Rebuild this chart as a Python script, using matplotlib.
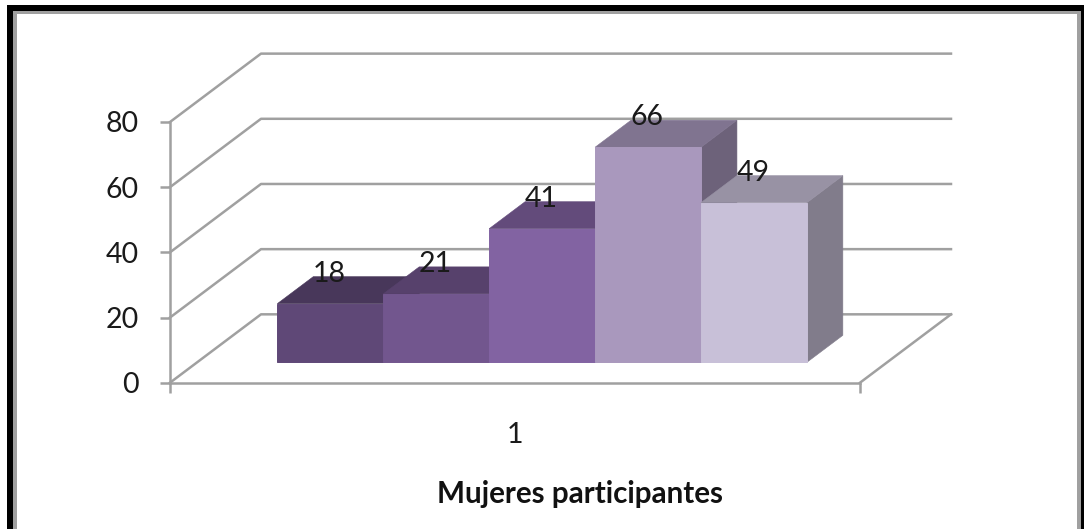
import matplotlib
matplotlib.use("Agg")
import matplotlib.pyplot as plt
from matplotlib.patches import Polygon, Rectangle
from matplotlib.colors import to_rgb

plt.rcParams['font.family'] = ['Lato', 'DejaVu Sans']

# values
valores = [18, 21, 41, 66, 49]
colores = ['#5f4877', '#72568e', '#8263a2', '#a998bd', '#c8c0d8']
yticks = [0, 20, 40, 60, 80]
categoria = ['1']
titulo_x = 'Mujeres participantes'

W, H = 1084, 529
gris = '#a0a0a0'

fig = plt.figure(figsize=(W / 100, H / 100), dpi=100)
ax = fig.add_axes([170 / W, 1 - 382.7 / H, 690 / W, 260.7 / H])
ax.set_xlim(0, 1)
ax.set_ylim(0, 80)

# oblique 3d: depth d goes 0 (front) to 1 (back wall)
DX = 91 / 690
DY = 68.4 / 3.26

def proy(x, y, d):
    return x + d * DX, y + d * DY

# walls and floor
for v in yticks:
    x0, y0 = proy(0, v, 0)
    x1, y1 = proy(0, v, 1)
    x2, y2 = proy(1, v, 1)
    ax.plot([x0, x1, x2], [y0, y1, y2], color=gris, lw=1.8, clip_on=False, zorder=1)
x0, y0 = proy(1, 0, 0)
x1, y1 = proy(1, 0, 1)
ax.plot([x0, x1], [y0, y1], color=gris, lw=1.8, clip_on=False, zorder=1)

# bars, left to right so each one covers the side of the previous
ancho = 0.1535
hueco = (1 - ancho * len(valores)) / 2
d0, d1 = 0.298, 0.693
for i, (v, c) in enumerate(zip(valores, colores)):
    a = hueco + i * ancho
    b = a + ancho
    rgb = to_rgb(c)
    arriba = tuple(k * 0.76 for k in rgb)
    lado = tuple(k * 0.645 for k in rgb)
    z = 3 + i
    ax.add_patch(Polygon([proy(b, 0, d0), proy(b, 0, d1), proy(b, v, d1), proy(b, v, d0)],
                         fc=lado, ec=lado, lw=0.4, clip_on=False, zorder=z))
    ax.add_patch(Polygon([proy(a, v, d0), proy(b, v, d0), proy(b, v, d1), proy(a, v, d1)],
                         fc=arriba, ec=arriba, lw=0.4, clip_on=False, zorder=z))
    ax.add_patch(Polygon([proy(a, 0, d0), proy(b, 0, d0), proy(b, v, d0), proy(a, v, d0)],
                         fc=c, ec=c, lw=0.7, clip_on=False, zorder=z))
    xt, yt = proy(a + ancho / 2, v, d0)
    ax.annotate(str(v), (xt, yt), xytext=(-0.7, 21.5), textcoords='offset points',
                ha='center', va='center', fontsize=20.5, color='#1a1a1a', zorder=20,
                annotation_clip=False)

for s in ['top', 'right']:
    ax.spines[s].set_visible(False)
for s in ['left', 'bottom']:
    ax.spines[s].set_color(gris)
    ax.spines[s].set_linewidth(1.8)
    ax.spines[s].set_zorder(2)
ax.patch.set_alpha(0)

ax.set_yticks(yticks)
ax.tick_params(axis='y', length=7.2, width=1.8, color=gris, labelsize=20.5,
               labelcolor='#1a1a1a', pad=15.5)
for t in ax.get_yticklabels():
    t.set_va('center_baseline')
ax.set_xticks([0.5])
ax.set_xticklabels(categoria)
ax.set_xticks([0, 1], minor=True)
ax.tick_params(axis='x', which='major', length=0, labelsize=20.5, labelcolor='#1a1a1a', pad=28)
ax.tick_params(axis='x', which='minor', length=7.2, width=1.8, color=gris)
ax.set_xlabel(titulo_x, x=(580 - 170) / 690, fontsize=21.3, fontweight='bold',
              color='#111111', labelpad=23.5)

# frame of the picture, bottom edge is cut off in the reference
marco = [(7, 5, W - 7, 6, 'black'), (7, 5, 6, H - 5, 'black'), (W - 3, 5, 3, H - 5, 'black'),
         (13, 11, 4, H - 11, gris), (13, 11, W - 16, 3, gris), (W - 7, 11, 4, H - 11, gris)]
for x, y, w, h, c in marco:
    fig.add_artist(Rectangle((x / W, 1 - (y + h) / H), w / W, h / H, fc=c, lw=0,
                             transform=fig.transFigure))

fig.savefig('out.png', dpi=100)
